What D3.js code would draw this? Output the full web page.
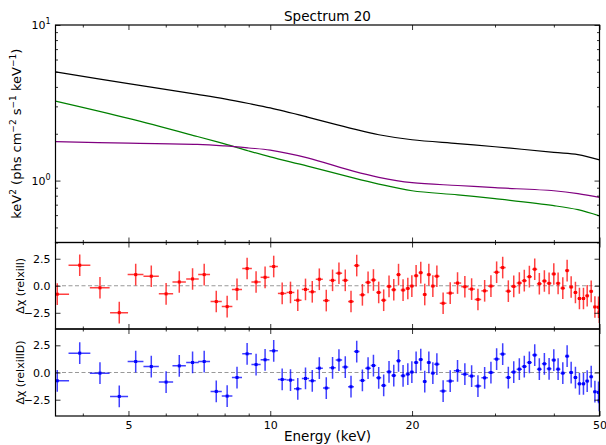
<!DOCTYPE html>
<html>
<head>
<meta charset="utf-8">
<script src="https://cdn.jsdelivr.net/npm/d3@7"></script>
<style>
  body { margin: 0; background: #fff; }
  svg { display: block; font-family: "DejaVu Sans", sans-serif; }
</style>
</head>
<body>
<div id="chart"></div>
<script>
// model curves (keV^2 units)
const modelE = [3.5, 5, 7, 8, 9, 10, 12, 15, 17, 20, 25, 30, 40, 45, 50];
const totalModel = [5.0, 4.2, 3.58, 3.35, 3.13, 2.93, 2.56, 2.15, 1.97, 1.83, 1.73, 1.65, 1.52, 1.47, 1.36];
const greenModel = [3.24, 2.51, 1.92, 1.72, 1.55, 1.42, 1.24, 1.04, 0.95, 0.86, 0.81, 0.765, 0.69, 0.65, 0.593];
const purpleModel = [1.78, 1.74, 1.71, 1.67, 1.62, 1.57, 1.40, 1.15, 1.05, 0.97, 0.93, 0.90, 0.86, 0.825, 0.78];

// residual bins
const energy = [3.53, 3.94, 4.35, 4.78, 5.18, 5.59, 6.01, 6.41, 6.84, 7.24,
  7.68, 8.10, 8.50, 8.93, 9.33, 9.75, 10.17, 10.60, 11.04, 11.44,
  11.88, 12.28, 12.71, 13.15, 13.56, 13.99, 14.43, 14.84, 15.26, 15.69,
  16.13, 16.56, 16.99, 17.41, 17.87, 18.29, 18.72, 19.14, 19.59, 19.98,
  20.40, 20.87, 21.28, 21.71, 22.14, 22.58, 23.28, 24.10, 24.98, 25.89,
  26.76, 27.60, 28.52, 29.41, 30.24, 31.15, 32.02, 32.88, 33.79, 34.62,
  35.49, 36.43, 37.26, 38.19, 39.08, 39.99, 40.84, 41.79, 42.68, 43.53,
  44.45, 45.33, 46.23, 47.08, 48.01, 48.89, 49.76, 49.95];
const halfWidth = [0.21, 0.21, 0.21, 0.21, 0.2, 0.21, 0.21, 0.21, 0.21, 0.21,
  0.21, 0.21, 0.21, 0.21, 0.21, 0.21, 0.21, 0.22, 0.21, 0.21,
  0.21, 0.21, 0.22, 0.21, 0.21, 0.22, 0.21, 0.21, 0.21, 0.22,
  0.22, 0.22, 0.21, 0.22, 0.22, 0.21, 0.21, 0.22, 0.21, 0.2,
  0.22, 0.22, 0.21, 0.22, 0.22, 0.29, 0.38, 0.43, 0.45, 0.45,
  0.43, 0.44, 0.45, 0.43, 0.44, 0.45, 0.43, 0.44, 0.44, 0.43,
  0.45, 0.44, 0.44, 0.46, 0.45, 0.44, 0.45, 0.46, 0.44, 0.44,
  0.45, 0.45, 0.44, 0.45, 0.45, 0.44, 0.44, 0.44];
const resRelxill = [-0.78, 1.9, -0.19, -2.49, 1.03, 0.88, -0.75, 0.35, 0.63, 1.03,
  -1.46, -1.93, -0.34, 1.59, 0.35, 0.78, 1.78, -0.71, -0.62, -1.34,
  -0.34, -0.56, 0.6, -1.37, 0.5, 1.16, 0.5, -1.46, 1.87, -0.84,
  0.31, 0.53, -0.62, -1.34, -0.06, -0.37, 1.03, -0.4, -0.25, -0.03,
  0.93, 1.21, -0.81, 1.03, -0.03, 0.88, -1.62, -0.68, 0.25, -0.09,
  -0.31, -1.27, -0.47, -0.03, 1.25, 1.68, -0.5, -0.06, 0.25, 0.47,
  0.84, 1.53, 0.19, 0.44, 0.22, 1.09, 0.22, -0.22, 1.4, -0.12,
  -0.62, -1.18, -1.18, -0.93, -0.52, -1.96, -1.99, -2.45];
const resRelxillD = [-0.76, 1.78, -0.06, -2.2, 1.01, 0.55, -0.88, 0.61, 0.92, 1.01,
  -1.74, -2.17, -0.46, 1.72, 0.73, 1.17, 1.99, -0.64, -0.7, -1.5,
  -0.55, -0.76, 0.4, -1.43, 0.43, 1.14, 0.5, -1.31, 1.93, -0.73,
  0.4, 0.64, -0.49, -1.19, 0.06, -0.28, 1.07, -0.3, -0.15, 0.04,
  0.92, 1.19, -0.83, 0.92, -0.06, 0.77, -1.71, -0.79, 0.16, -0.15,
  -0.33, -1.25, -0.49, 0.0, 1.23, 1.69, -0.46, 0.04, 0.31, 0.55,
  0.92, 1.6, 0.31, 0.8, 0.34, 1.14, 0.31, -0.06, 1.5, 0.0,
  -0.46, -1.04, -1.04, -0.79, -0.39, -1.77, -1.83, -2.57];

const xMajor = [5, 10, 20, 50];
const xMinor = [4, 6, 7, 8, 9, 30, 40];
const yMinorTop = [0.4, 0.5, 0.6, 0.7, 0.8, 0.9, 2, 3, 4, 5, 6, 7, 8, 9];
const resTicks = [-2.5, 0, 2.5];

const W = 606, H = 445;
const left = 55.5, right = 599.5;

const svg = d3.select("#chart").append("svg")
    .attr("width", W)
    .attr("height", H);

svg.append("rect").attr("width", W).attr("height", H).attr("fill", "#fff");

const x = d3.scaleLog().domain([3.5, 50]).range([left, right]);

const panels = {
  top: {y0: 25, y1: 242.5},
  r1: {y0: 242.5, y1: 329},
  r2: {y0: 329, y1: 416}
};

const yTop = d3.scaleLog().domain([0.4, 10]).range([panels.top.y1, panels.top.y0]);
const yR1 = d3.scaleLinear().domain([-4, 4]).range([panels.r1.y1, panels.r1.y0]);
const yR2 = d3.scaleLinear().domain([-4, 4]).range([panels.r2.y1, panels.r2.y0]);

// clip paths
Object.entries(panels).forEach(([k, p]) => {
  svg.append("clipPath").attr("id", "clip-" + k)
    .append("rect")
    .attr("x", left).attr("y", p.y0)
    .attr("width", right - left).attr("height", p.y1 - p.y0);
});

function xTicks(p, showLabels) {
  const g = svg.append("g");
  // bottom major
  g.append("g").attr("transform", `translate(0,${p.y1})`)
    .call(d3.axisBottom(x).tickValues(xMajor).tickSizeInner(-5).tickSizeOuter(0)
      .tickPadding(5).tickFormat(showLabels ? d3.format("d") : () => ""));
  g.append("g").attr("transform", `translate(0,${p.y1})`)
    .call(d3.axisBottom(x).tickValues(xMinor).tickSizeInner(-2.5).tickSizeOuter(0).tickFormat(() => ""));
  // top
  g.append("g").attr("transform", `translate(0,${p.y0})`)
    .call(d3.axisTop(x).tickValues(xMajor).tickSizeInner(-5).tickSizeOuter(0).tickFormat(() => ""));
  g.append("g").attr("transform", `translate(0,${p.y0})`)
    .call(d3.axisTop(x).tickValues(xMinor).tickSizeInner(-2.5).tickSizeOuter(0).tickFormat(() => ""));
  g.selectAll(".domain").remove();
  g.selectAll("line").attr("stroke", "#000").attr("stroke-width", 0.8);
  g.selectAll("text").attr("font-size", 11).attr("fill", "#000")
    .attr("font-family", "DejaVu Sans");
  return g;
}

function yTicksRes(y) {
  const g = svg.append("g");
  g.append("g").attr("transform", `translate(${left},0)`)
    .call(d3.axisLeft(y).tickValues(resTicks).tickSizeInner(-5).tickSizeOuter(0)
      .tickPadding(5).tickFormat(d => d3.format(".1f")(d).replace("-", "\u2212")));
  g.append("g").attr("transform", `translate(${right},0)`)
    .call(d3.axisRight(y).tickValues(resTicks).tickSizeInner(-5).tickSizeOuter(0).tickFormat(() => ""));
  g.selectAll(".domain").remove();
  g.selectAll("line").attr("stroke", "#000").attr("stroke-width", 0.8);
  g.selectAll("text").attr("font-size", 11).attr("fill", "#000")
    .attr("font-family", "DejaVu Sans");
}

// ---- top panel ----
const p = panels.top;
const line = d3.line().x(d => x(d[0])).y(d => yTop(d[1])).curve(d3.curveCatmullRom.alpha(0.5));
const curves = [
  {vals: greenModel, color: "green"},
  {vals: purpleModel, color: "purple"},
  {vals: totalModel, color: "black"}
];
const gTop = svg.append("g").attr("clip-path", "url(#clip-top)");
curves.forEach(c => {
  gTop.append("path")
    .datum(modelE.map((e, i) => [e, c.vals[i]]))
    .attr("d", line)
    .attr("fill", "none")
    .attr("stroke", c.color)
    .attr("stroke-width", 1.2);
});

xTicks(p, false);

// y ticks top panel
const gy = svg.append("g");
gy.append("g").attr("transform", `translate(${left},0)`)
  .call(d3.axisLeft(yTop).tickValues([1, 10]).tickSizeInner(-5).tickSizeOuter(0).tickFormat(() => ""));
gy.append("g").attr("transform", `translate(${left},0)`)
  .call(d3.axisLeft(yTop).tickValues(yMinorTop).tickSizeInner(-2.5).tickSizeOuter(0).tickFormat(() => ""));
gy.append("g").attr("transform", `translate(${right},0)`)
  .call(d3.axisRight(yTop).tickValues([1, 10]).tickSizeInner(-5).tickSizeOuter(0).tickFormat(() => ""));
gy.append("g").attr("transform", `translate(${right},0)`)
  .call(d3.axisRight(yTop).tickValues(yMinorTop).tickSizeInner(-2.5).tickSizeOuter(0).tickFormat(() => ""));
gy.selectAll(".domain").remove();
gy.selectAll("line").attr("stroke", "#000").attr("stroke-width", 0.8);

[[1, "0"], [10, "1"]].forEach(([v, e]) => {
  const t = svg.append("text")
    .attr("x", left - 5).attr("y", yTop(v) + 4)
    .attr("text-anchor", "end")
    .attr("font-size", 11);
  t.append("tspan").text("10");
  t.append("tspan").attr("font-size", 8).attr("dy", -5).text(e);
});

// top y label
const yl = svg.append("text")
  .attr("transform", `translate(21,${(p.y0 + p.y1) / 2}) rotate(-90)`)
  .attr("text-anchor", "middle")
  .attr("font-size", 13);
yl.append("tspan").text("keV");
yl.append("tspan").attr("font-size", 9).attr("dy", -5).text("2");
yl.append("tspan").attr("dy", 5).text(" (phs cm");
yl.append("tspan").attr("font-size", 9).attr("dy", -5).text("\u22122");
yl.append("tspan").attr("dy", 5).text(" s");
yl.append("tspan").attr("font-size", 9).attr("dy", -5).text("\u22121");
yl.append("tspan").attr("dy", 5).text(" keV");
yl.append("tspan").attr("font-size", 9).attr("dy", -5).text("\u22121");
yl.append("tspan").attr("dy", 5).text(")");

// title
svg.append("text")
  .attr("x", (left + right) / 2).attr("y", 21)
  .attr("text-anchor", "middle")
  .attr("font-size", 13.5)
  .text("Spectrum 20");

// ---- residual panels ----
function residuals(key, y, vals, color, label) {
  const pp = panels[key];
  const g = svg.append("g").attr("clip-path", `url(#clip-${key})`);
  g.append("line")
    .attr("x1", left).attr("x2", right)
    .attr("y1", y(0)).attr("y2", y(0))
    .attr("stroke", "#999").attr("stroke-width", 1.2)
    .attr("stroke-dasharray", "4,2.5");
  const pts = energy.map((e, i) => ({e, hw: halfWidth[i], v: vals[i]}));
  const pt = g.selectAll("g.pt").data(pts).enter().append("g").attr("class", "pt");
  pt.append("line")
    .attr("x1", d => x(d.e)).attr("x2", d => x(d.e))
    .attr("y1", d => y(d.v - 1)).attr("y2", d => y(d.v + 1))
    .attr("stroke", color).attr("stroke-width", 1.5).attr("stroke-opacity", 0.75);
  pt.append("line")
    .attr("x1", d => x(d.e - d.hw)).attr("x2", d => x(d.e + d.hw))
    .attr("y1", d => y(d.v)).attr("y2", d => y(d.v))
    .attr("stroke", color).attr("stroke-width", 1.5).attr("stroke-opacity", 0.75);
  pt.append("rect")
    .attr("x", d => x(d.e) - 1.5).attr("y", d => y(d.v) - 1.5)
    .attr("width", 3).attr("height", 3)
    .attr("fill", color);

  xTicks(pp, key === "r2");
  yTicksRes(y);

  svg.append("text")
    .attr("transform", `translate(24,${(pp.y0 + pp.y1) / 2}) rotate(-90)`)
    .attr("text-anchor", "middle")
    .attr("font-size", 11)
    .text(label);
}

residuals("r1", yR1, resRelxill, "red", "\u0394\u03c7 (relxill)");
residuals("r2", yR2, resRelxillD, "blue", "\u0394\u03c7 (relxillD)");

// frames
Object.values(panels).forEach(pp => {
  svg.append("rect")
    .attr("x", left).attr("y", pp.y0)
    .attr("width", right - left).attr("height", pp.y1 - pp.y0)
    .attr("fill", "none").attr("stroke", "#000").attr("stroke-width", 1.2);
});

// x label
svg.append("text")
  .attr("x", (left + right) / 2).attr("y", 441)
  .attr("text-anchor", "middle")
  .attr("font-size", 13.5)
  .text("Energy (keV)");
</script>
</body>
</html>
